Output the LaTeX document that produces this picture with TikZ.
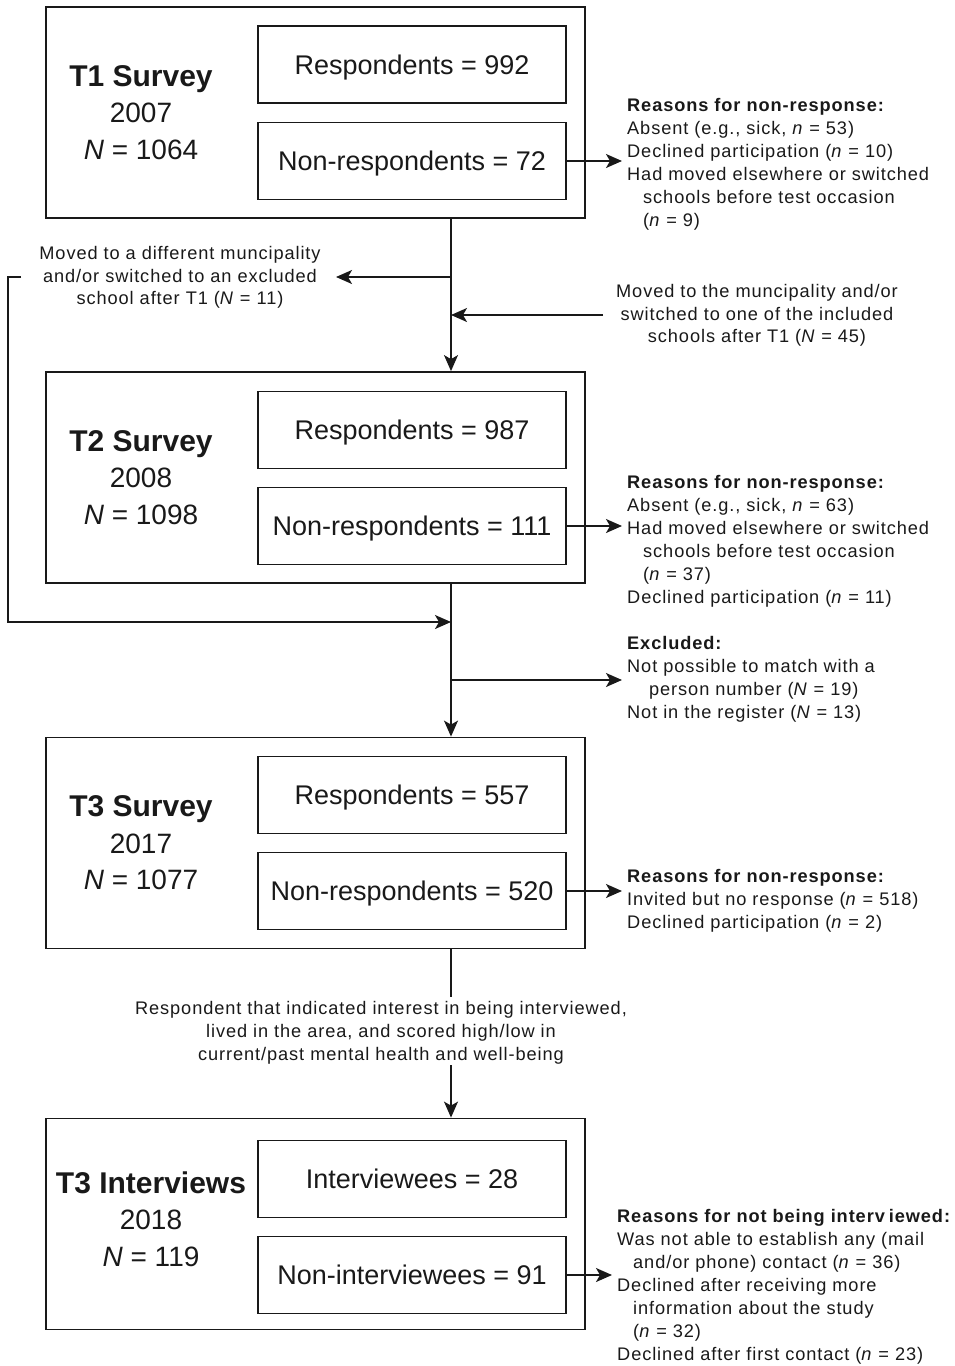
\documentclass[tikz,border=0pt]{standalone}
\usepackage{fontspec}
\setmainfont{Liberation Sans}
\newfontfamily\notefont{Liberation Sans}[LetterSpace=5]
\usetikzlibrary{arrows.meta}

\begin{document}
\begin{tikzpicture}[x=1pt,y=-1pt,
  mainbox/.style={draw=black!90, line width=1.8pt, minimum width=539pt, minimum height=211pt, inner sep=0pt},
  subbox/.style={draw=black!90, line width=1.8pt, minimum width=308pt, minimum height=77pt, inner sep=0pt,
    text height=19.5pt, text depth=0pt, font=\fontsize{27}{32}\selectfont, text=black!90},
  wavetext/.style={align=center, inner sep=0pt, font=\fontsize{28}{36.5}\selectfont, text=black!90},
  notetext/.style={align=left, anchor=north west, inner sep=0pt,
    font=\notefont\fontsize{18.2}{23}\selectfont, text=black!90},
  cnote/.style={align=center, inner sep=0pt,
    font=\notefont\fontsize{18.2}{22.8}\selectfont, text=black!90},
  arr/.style={draw=black!90, line width=1.5pt, -{Stealth[length=16pt,width=14pt,inset=4pt]}},
  plain/.style={draw=black!90, line width=1.5pt}
]
\useasboundingbox (0,0) rectangle (954,1366);

% spine of the flow
\coordinate (sp) at (451,0);

% ---------- T1 survey ----------
\node[mainbox] (t1) at (315.5,112.5) {};
\node[subbox] (r1) at (412,64.5) {Respondents = 992};
\node[subbox] (n1) at (412,161) {Non-respondents = 72};
\node[wavetext] (w1) at (141,112.5) {{\fontsize{30}{36.5}\selectfont\bfseries T1 Survey}\\2007\\\textit{N} = 1064};
\node[notetext] (why1) at (627,98) {\textbf{Reasons for non-response:}\\
Absent (e.g., sick, \textit{n} = 53)\\
Declined participation (\textit{n} = 10)\\
Had moved elsewhere or switched\\
\hspace*{16pt}schools before test occasion\\
\hspace*{16pt}(\textit{n} = 9)};

% ---------- T2 survey ----------
\node[mainbox] (t2) at (315.5,477.5) {};
\node[subbox] (r2) at (412,430) {Respondents = 987};
\node[subbox] (n2) at (412,526) {Non-respondents = 111};
\node[wavetext] (w2) at (141,477.5) {{\fontsize{30}{36.5}\selectfont\bfseries T2 Survey}\\2008\\\textit{N} = 1098};
\node[notetext] (why2) at (627,475) {\textbf{Reasons for non-response:}\\
Absent (e.g., sick, \textit{n} = 63)\\
Had moved elsewhere or switched\\
\hspace*{16pt}schools before test occasion\\
\hspace*{16pt}(\textit{n} = 37)\\
Declined participation (\textit{n} = 11)};

% ---------- T3 survey ----------
\node[mainbox] (t3) at (315.5,843) {};
\node[subbox] (r3) at (412,795) {Respondents = 557};
\node[subbox] (n3) at (412,891) {Non-respondents = 520};
\node[wavetext] (w3) at (141,843) {{\fontsize{30}{36.5}\selectfont\bfseries T3 Survey}\\2017\\\textit{N} = 1077};
\node[notetext] (why3) at (627,869) {\textbf{Reasons for non-response:}\\
Invited but no response (\textit{n} = 518)\\
Declined participation (\textit{n} = 2)};

% ---------- T3 interviews ----------
\node[mainbox] (t4) at (315.5,1224) {};
\node[subbox] (r4) at (412,1179) {Interviewees = 28};
\node[subbox] (n4) at (412,1275) {Non-interviewees = 91};
\node[wavetext] (w4) at (151,1219) {{\fontsize{30}{36.5}\selectfont\bfseries T3 Interviews}\\2018\\\textit{N} = 119};
\node[notetext] (why4) at (617,1209) {\textbf{Reasons for not being interv\hspace{4pt}iewed:}\\
Was not able to establish any (mail\\
\hspace*{16pt}and/or phone) contact (\textit{n} = 36)\\
Declined after receiving more\\
\hspace*{16pt}information about the study\\
\hspace*{16pt}(\textit{n} = 32)\\
Declined after first contact (\textit{n} = 23)};

% ---------- movers and exclusions ----------
\node[cnote, anchor=north] (out) at (180,246) {Moved to a different muncipality\\and/or switched to an excluded\\school after T1 (\textit{N} = 11)};
\node[cnote, anchor=north] (in) at (757,284) {Moved to the muncipality and/or\\switched to one of the included\\schools after T1 (\textit{N} = 45)};
\node[notetext] (excl) at (627,636) {\textbf{Excluded:}\\
Not possible to match with a\\
\hspace*{22pt}person number (\textit{N} = 19)\\
Not in the register (\textit{N} = 13)};
\node[cnote] (sel) at (381,1033) {Respondent that indicated interest in being interviewed,\\lived in the area, and scored high/low in\\current/past mental health and well-being};

% junctions and bends on the connectors
\coordinate (jout) at (451,277);
\coordinate (tout) at (336,277);
\coordinate (bend1) at (21,277);
\coordinate (bend2) at (8,277);
\coordinate (bend3) at (8,622);
\coordinate (jback) at (451,622);
\coordinate (jin) at (451,315);
\coordinate (sin) at (603,315);
\coordinate (jex) at (451,680);
\coordinate (tex) at (622,680);
\coordinate (gapt) at (451,997);
\coordinate (gapb) at (451,1065);

% ---------- connectors ----------
\draw[arr] (t1.south -| sp) -- (t2.north -| sp);
\draw[arr] (t2.south -| sp) -- (t3.north -| sp);
\draw[plain] (t3.south -| sp) -- (gapt);
\draw[arr] (gapb) -- (t4.north -| sp);

\draw[arr] (jout) -- (tout);
\draw[arr] (bend1) -- (bend2) -- (bend3) -- (jback);
\draw[arr] (sin) -- (jin);
\draw[arr] (jex) -- (tex);

\draw[arr] (n1.east) -- ([xshift=-5pt]n1.east -| why1.west);
\draw[arr] (n2.east) -- ([xshift=-5pt]n2.east -| why2.west);
\draw[arr] (n3.east) -- ([xshift=-5pt]n3.east -| why3.west);
\draw[arr] (n4.east) -- ([xshift=-5pt]n4.east -| why4.west);
\end{tikzpicture}
\end{document}
